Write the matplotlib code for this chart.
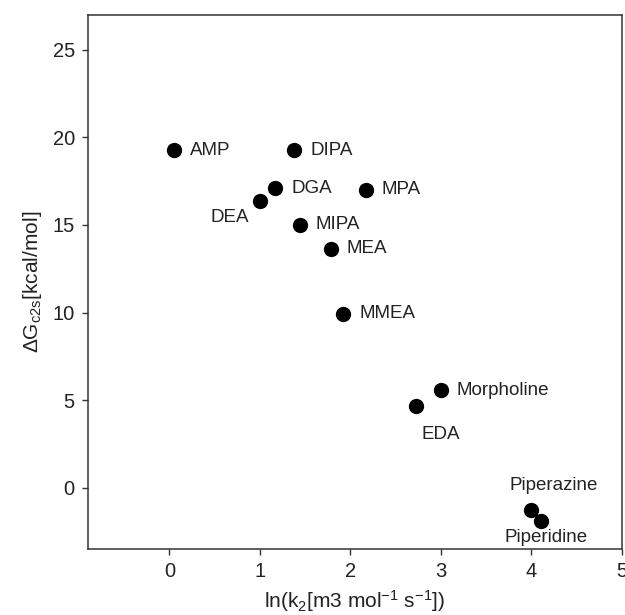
import matplotlib
matplotlib.use('Agg')
import matplotlib.pyplot as plt

plt.rcParams['font.family'] = ['Liberation Sans', 'DejaVu Sans']
plt.rcParams['mathtext.fontset'] = 'custom'
plt.rcParams['mathtext.rm'] = 'Liberation Sans'
plt.rcParams['mathtext.it'] = 'Liberation Sans:italic'

# amines: ln(k2) vs dG_c2s
names = ['AMP', 'DIPA', 'DGA', 'DEA', 'MPA', 'MIPA', 'MEA', 'MMEA',
         'Morpholine', 'EDA', 'Piperazine', 'Piperidine']
lnk2 = [0.05, 1.38, 1.17, 1.00, 2.17, 1.44, 1.78, 1.92, 3.00, 2.72, 3.99, 4.10]
dg = [19.26, 19.26, 17.09, 16.35, 17.0, 15.0, 13.63, 9.93, 5.57, 4.66, -1.26, -1.9]

# label offsets in pixels (dx, dy, ha)
offsets = {
    'DEA': (-11, -16, 'right'),
    'EDA': (6, -28, 'left'),
    'Piperazine': (23, 24, 'center'),
    'Piperidine': (6, -17, 'center'),
}

fig = plt.figure(figsize=(6.25, 6.15), dpi=100)
ax = fig.add_axes([0.1408, 0.1073, 0.8544, 0.8687])

ax.scatter(lnk2, dg, s=100, color='black', zorder=3)

for n, x, y in zip(names, lnk2, dg):
    dx, dy, ha = offsets.get(n, (16, 0, 'left'))
    ax.annotate(n, (x, y), xytext=(dx, dy), textcoords='offset pixels',
                ha=ha, va='center', fontsize=13.5, color='#222222')

ax.set_xlim(-0.9, 5)
ax.set_ylim(-3.5, 27)
ax.set_xticks([0, 1, 2, 3, 4, 5])
ax.set_yticks([0, 5, 10, 15, 20, 25])

for s in ax.spines.values():
    s.set_color('#333333')
    s.set_linewidth(1.1)
ax.tick_params(direction='out', length=4.5, width=1.0, color='#333333',
               labelsize=14.5, labelcolor='#222222', pad=5)

ax.set_xlabel(r'ln(k$_\mathregular{2}$[m3 mol$^\mathregular{-1}$ s$^\mathregular{-1}$])',
              fontsize=15, color='#222222', labelpad=5)
ax.set_ylabel(r'$\Delta$G$_\mathregular{c2s}$[kcal/mol]', fontsize=15,
              color='#222222', labelpad=6)

fig.savefig('out.png', dpi=100)
